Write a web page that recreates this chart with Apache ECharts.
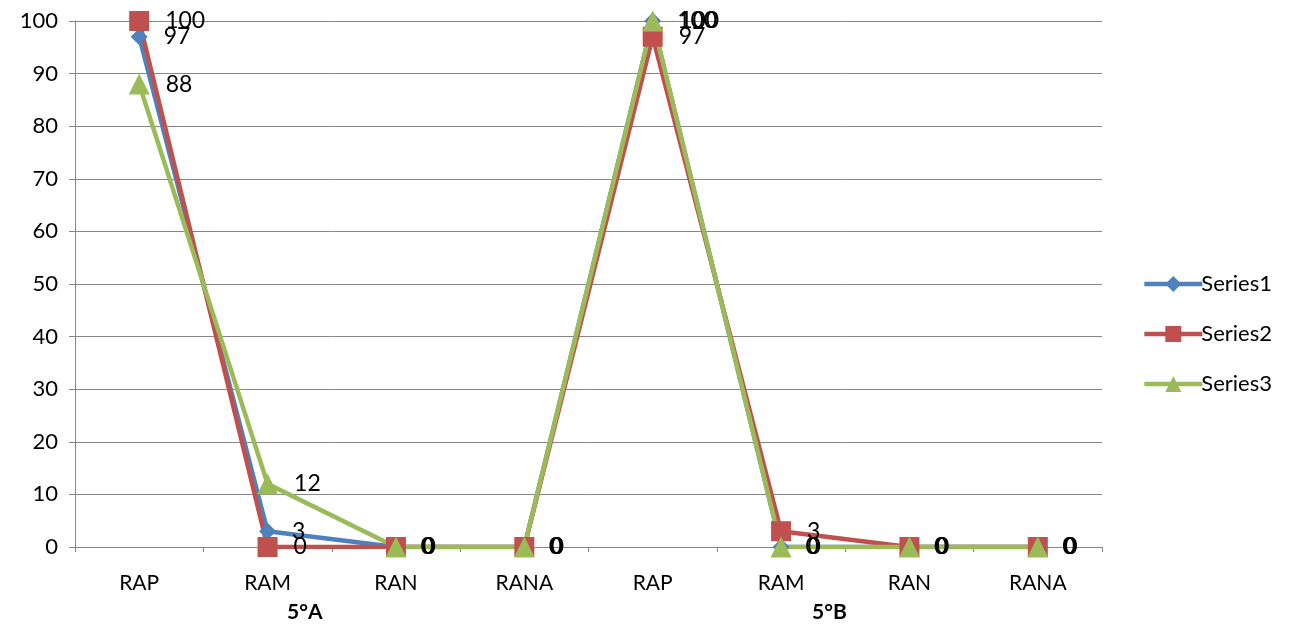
<!DOCTYPE html>
<html><head><meta charset="utf-8">
<script src="https://cdn.jsdelivr.net/npm/echarts@6/dist/echarts.min.js"></script>
<style>html,body{margin:0;padding:0;background:#fff}#c{width:1293px;height:628px}</style>
</head><body><div id="c"></div>
<script>
const categories = ['RAP','RAM','RAN','RANA','RAP','RAM','RAN','RANA'];
const groups = ['5°A','5°B'];
const series1 = [97, 3, 0, 0, 100, 0, 0, 0];
const series2 = [100, 0, 0, 0, 97, 3, 0, 0];
const series3 = [88, 12, 0, 0, 100, 0, 0, 0];
const yTicks = [0,10,20,30,40,50,60,70,80,90,100];

const FONT = 'Lato, "Open Sans", sans-serif';
const chart = echarts.init(document.getElementById('c'), null, {renderer:'canvas'});
function mk(name, data, color, symbol, size){
  return {
    name, type:'line', data, symbol, symbolSize:size,
    lineStyle:{color, width:4.5}, itemStyle:{color},
    label:{show:true, position:'right', distance:16, color:'#000', fontSize:23, fontFamily:FONT},
    emphasis:{disabled:true}, animation:false
  };
}
chart.setOption({
  animation:false,
  grid:{left:75, right:191, top:21, bottom:81},
  legend:{
    orient:'vertical', right:16, top:268, itemGap:28, itemWidth:58, itemHeight:20,
    lineStyle:{width:4.5},
    textStyle:{fontSize:22, fontFamily:FONT, color:'#000', padding:[0,0,0,-6]},
    data:['Series1','Series2','Series3']
  },
  xAxis:{
    type:'category', data:categories, boundaryGap:true,
    axisLine:{lineStyle:{color:'#868686', width:1}},
    axisTick:{show:true, interval:0, length:5, lineStyle:{color:'#868686'}},
    axisLabel:{color:'#000', fontSize:21, fontFamily:FONT, margin:26, interval:0}
  },
  yAxis:{
    type:'value', min:yTicks[0], max:yTicks[yTicks.length-1], interval:10,
    axisLine:{show:true, lineStyle:{color:'#868686', width:1}},
    axisTick:{show:true, inside:false, length:6, lineStyle:{color:'#868686'}},
    splitLine:{lineStyle:{color:'#868686', width:1}},
    axisLabel:{color:'#000', fontSize:22, fontFamily:FONT, margin:17}
  },
  graphic:[
    {type:'text', left:287, top:602, style:{text:groups[0], font:'bold 21px '+FONT, fill:'#000'}},
    {type:'text', left:812, top:602, style:{text:groups[1], font:'bold 21px '+FONT, fill:'#000'}}
  ],
  series:[
    mk('Series1', series1, '#4F81BD', 'diamond', 17),
    mk('Series2', series2, '#C0504D', 'rect', 20),
    mk('Series3', series3, '#9BBB59', 'triangle', 21)
  ]
});
</script></body></html>
